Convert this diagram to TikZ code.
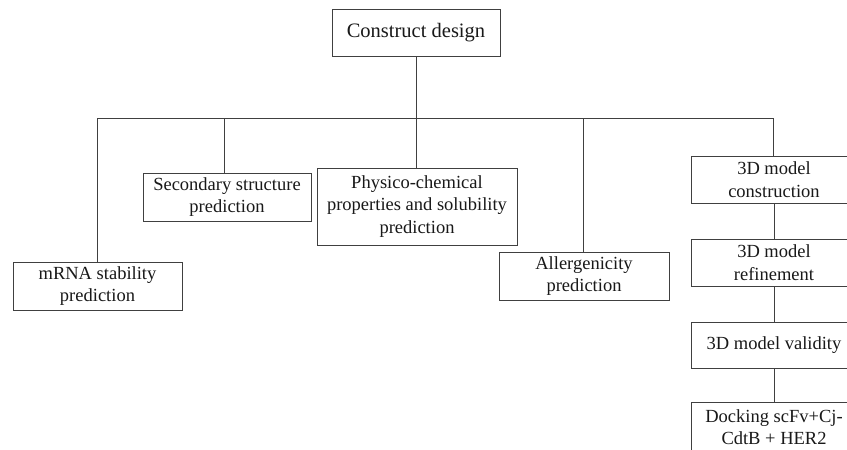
\documentclass[tikz,border=0pt]{standalone}
\usepackage{fontspec}
\setmainfont{Liberation Serif}
\begin{document}
\begin{tikzpicture}[x=1pt,y=-1pt,
  box/.style={draw=black!75,line width=0.9pt,align=center,inner sep=0pt,
    font=\fontsize{18.5}{22.5}\selectfont,text=black!90},
  link/.style={draw=black!75,line width=0.8pt}]
\useasboundingbox (0,0) rectangle (847,450);
\clip (0,0) rectangle (847,450);
\fill[white] (0,0) rectangle (847,450);
\node[box,minimum width=168pt,minimum height=47pt,font=\fontsize{20.5}{24}\selectfont] (top) at (416,32.5) {Construct design};
\node[box,minimum width=168pt,minimum height=48pt] (sec) at (227,197) {Secondary structure\\prediction};
\node[box,minimum width=169pt,minimum height=48pt] (mrna) at (97.5,286) {mRNA stability\\prediction};
\node[box,minimum width=200pt,minimum height=77pt] (phys) at (417,206.5) {Physico-chemical\\properties and solubility\\prediction};
\node[box,minimum width=170pt,minimum height=48pt] (all) at (584,276) {Allergenicity\\prediction};
\node[box,minimum width=166pt,minimum height=47pt] (r1) at (774,179.5) {3D model\\construction};
\node[box,minimum width=166pt,minimum height=47pt] (r2) at (774,262.5) {3D model\\refinement};
\node[box,minimum width=166pt,minimum height=46pt] (r3) at (774,345) {3D model validity};
\node[box,minimum width=166pt,minimum height=50pt] (r4) at (774,427) {Docking scFv+Cj-\\CdtB + HER2};
\coordinate (hub) at (416,118);
\coordinate (b1) at (97,118);
\coordinate (b2) at (224,118);
\coordinate (b3) at (416,118);
\coordinate (b4) at (583,118);
\coordinate (b5) at (773,118);
\draw[link] (top.south) -- (hub);
\draw[link] (b1) -- (b5);
\draw[link] (b1) -- (b1 |- mrna.north);
\draw[link] (b2) -- (b2 |- sec.north);
\draw[link] (b3) -- (b3 |- phys.north);
\draw[link] (b4) -- (b4 |- all.north);
\draw[link] (b5) -- (b5 |- r1.north);
\draw[link] (r1.south) -- (r2.north);
\draw[link] (r2.south) -- (r3.north);
\draw[link] (r3.south) -- (r4.north);
\end{tikzpicture}
\end{document}
